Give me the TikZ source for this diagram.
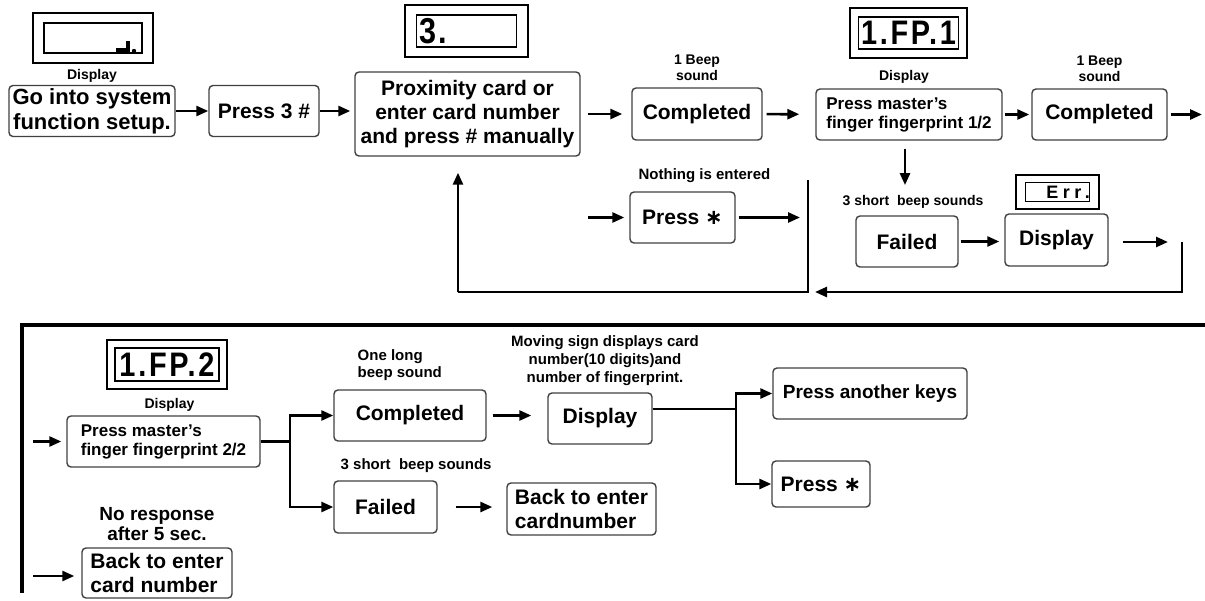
\documentclass[tikz,border=0pt]{standalone}
\usepackage{fontspec}
\setmainfont{Liberation Sans}
\newfontfamily\lcdfont[FakeStretch=0.85,LetterSpace=8]{Liberation Sans}
\newfontfamily\errfont[LetterSpace=25]{Liberation Sans}
\newfontfamily\symfont{DejaVu Sans}
\newcommand{\starkey}{{\symfont\bfseries ∗}}
\usetikzlibrary{positioning,arrows.meta}

\begin{document}
\begin{tikzpicture}[x=0.5pt, y=-0.5pt, node distance=2pt,
    box/.style={rectangle, draw=black!75, line width=0.7pt, rounded corners=2pt,
      inner sep=1pt, align=center, font=\bfseries\fontsize{10.5}{12}\selectfont},
    note/.style={inner sep=1pt, align=center, font=\bfseries\fontsize{7}{8}\selectfont},
    lcd/.style={rectangle, draw, line width=1.4pt, inner sep=0pt},
    lcdin/.style={rectangle, draw, line width=0.9pt, inner sep=0pt},
    lcdtxt/.style={inner sep=0pt, font=\lcdfont\bfseries\fontsize{17}{17}\selectfont},
    arr/.style={-{Triangle[length=6pt,width=5pt]}, line width=1.3pt},
    wire/.style={line width=1.3pt}]
  \useasboundingbox (0,0) rectangle (1205,600);

  % Setup
  \node[box, minimum width=83pt, minimum height=25.5pt,
    font=\bfseries\fontsize{11}{12.5}\selectfont] (setup) at (92,111) {Go into system\\function setup.};
  \node[note, above=0pt of setup] (setuplbl) {Display};
  \node[lcd, minimum width=60pt, minimum height=25pt] (lcd1) at (93,38) {};
  \node[lcdin, minimum width=49pt, minimum height=15pt] (lcd1in) at (lcd1) {};
  \draw[line width=1.6pt] (116,50) -- (128,50) -- (128,41);
  \fill (134,51) circle (1.1pt);

  % Press 3 #
  \node[box, minimum width=55pt, minimum height=25.5pt] (press3) at (264,111) {Press 3 \#};

  % Card
  \node[box, minimum width=112.5pt, minimum height=42pt] (prox) at (467.5,114)
    {Proximity card or\\enter card number\\and press \# manually};
  \node[lcd, minimum width=61.5pt, minimum height=26pt] (lcd2) at (466.5,31) {};
  \node[lcdin, minimum width=50pt, minimum height=16pt] (lcd2in) at (lcd2) {};
  \node[lcdtxt, anchor=west, font=\lcdfont\bfseries\fontsize{18}{18}\selectfont] (lcd2txt) at ([xshift=1.5pt,yshift=-0.3pt]lcd2in.west) {3.};

  % Completed
  \node[box, minimum width=65pt, minimum height=26pt] (done1) at (697,114) {Completed};
  \node[note, above=2pt of done1] (beep1) {1 Beep\\sound};

  % Fingerprint 1/2
  \node[box, minimum width=93pt, minimum height=25.5pt, align=left,
    font=\bfseries\fontsize{8.5}{9.5}\selectfont] (fp1) at (909,114.5) {Press master's\\finger fingerprint 1/2};
  \node[note, above=1pt of fp1, xshift=-2.5pt] (fp1lbl) {Display};
  \node[lcd, minimum width=58.5pt, minimum height=25pt] (lcd3) at (908.5,33) {};
  \node[lcdin, minimum width=50pt, minimum height=16pt] (lcd3in) at (lcd3) {};
  \node[lcdtxt] (lcd3txt) at (lcd3in) {1.FP.1};

  % Completed
  \node[box, minimum width=67.5pt, minimum height=25.5pt] (done2) at (1099.5,114.5) {Completed};
  \node[note, above=2pt of done2] (beep2) {1 Beep\\sound};
  \coordinate (out1) at (1202,114.5);

  % Press * (nothing entered)
  \node[box, minimum width=52.5pt, minimum height=25.5pt] (star1) at (682.5,217.5) {Press \starkey};
  \node[note, above=3pt of star1, xshift=11pt, font=\bfseries\fontsize{7.5}{8}\selectfont] (nothing) {Nothing is entered};
  \coordinate (in1) at (588,217.5);

  % Failed
  \node[box, minimum width=51pt, minimum height=25.5pt] (fail1) at (907,241.5) {Failed};
  \node[note] (fail1lbl) at (913,202) {3 short\ \ beep sounds};

  % Err display
  \node[box, minimum width=51.5pt, minimum height=26pt] (disp1) at (1056.5,240) {Display};
  \node[lcd, line width=1pt, minimum width=41.5pt, minimum height=17pt] (lcd5) at (1057.5,192) {};
  \node[lcdin, line width=0.7pt, minimum width=32pt, minimum height=9.5pt] (lcd5in) at (lcd5) {};
  \node[inner sep=0pt, anchor=east, font=\errfont\bfseries\fontsize{9}{9}\selectfont] (lcd5txt) at ([xshift=0pt,yshift=-0.2pt]lcd5in.east) {Err.};

  % Loop lines
  \coordinate (barTop) at (808,180);
  \coordinate (barBot) at (808,292);
  \coordinate (loopL) at (458,292);
  \coordinate (errR) at (1182,242);
  \coordinate (errB) at (1182,292);

  % Connections
  \draw[arr] (setup) -- (press3);
  \draw[arr, shorten >=2pt] (press3.east) -- (press3.east -| prox.west);
  \draw[arr, shorten <=3.5pt, shorten >=4.5pt] (prox) -- (done1);
  \draw[arr, shorten <=2pt, shorten >=8pt] (done1) -- (fp1);
  \draw[arr, shorten <=1pt, shorten >=1pt] (fp1) -- (done2);
  \draw[arr, shorten <=1.5pt] (done2) -- (out1);
  \draw[arr, shorten <=4pt, shorten >=4pt] ([xshift=-2pt]fp1.south) -- ([xshift=-2pt]fp1.south |- fail1lbl.north);
  \draw[arr, shorten <=1pt, shorten >=2.5pt] (fail1) -- (fail1 -| disp1.west);
  \draw[arr, shorten <=7pt, shorten >=7pt] (disp1.east |- errR) -- (errR);
  \draw[arr, shorten >=3.5pt] (errR) -- (errB) -- (barBot);
  \draw[arr, shorten >=2.5pt] (in1) -- (star1);
  \draw[arr, shorten <=1.5pt, shorten >=4pt] (star1) -- (star1 -| barTop);
  \draw[wire] (barTop) -- (barBot) -- (loopL);
  \draw[arr, shorten >=8pt] (loopL) -- (loopL |- prox.south);

  % Lower frame
  \coordinate (frameR) at (1205,325);
  \coordinate (frameL) at (22,325);
  \coordinate (frameB) at (22,593);
  \draw[line width=1.6pt] (frameR) -- (frameL) -- (frameB);

  % Fingerprint 2/2
  \node[box, minimum width=96.5pt, minimum height=25.5pt, align=left,
    font=\bfseries\fontsize{8.5}{9.5}\selectfont] (fp2) at (163.5,441.5) {Press master's\\finger fingerprint 2/2};
  \node[note, above=1pt of fp2, xshift=3pt] (fp2lbl) {Display};
  \node[lcd, minimum width=60pt, minimum height=24.5pt] (lcd4) at (167,364.5) {};
  \node[lcdin, minimum width=52pt, minimum height=16.5pt] (lcd4in) at (lcd4) {};
  \node[lcdtxt] (lcd4txt) at (lcd4in) {1.FP.2};
  \coordinate (in2) at (33,441.5);
  \coordinate (fork1) at (290,441.5);

  % Completed / Failed
  \node[box, minimum width=76pt, minimum height=25.5pt] (done3) at (410,415.5) {Completed};
  \node[note, align=left, anchor=south west, font=\bfseries\fontsize{7.5}{8.5}\selectfont] (longbeep)
    at ([xshift=11pt,yshift=3pt]done3.north west) {One long\\beep sound};
  \node[box, minimum width=51.5pt, minimum height=26pt] (fail2) at (385.5,507) {Failed};
  \node[note, anchor=south west, font=\bfseries\fontsize{7.5}{8}\selectfont] (fail2lbl)
    at ([xshift=2.5pt,yshift=2.5pt]fail2.north west) {3 short\ \ beep sounds};

  % Display card number
  \node[box, minimum width=52pt, minimum height=25.5pt] (disp2) at (600,418.5) {Display};
  \node[note, above=2pt of disp2, xshift=2.5pt, font=\bfseries\fontsize{7.5}{9}\selectfont] (moving)
    {Moving sign displays card\\number(10 digits)and\\number of fingerprint.};
  \node[box, minimum width=74.5pt, minimum height=26pt, align=left] (back1) at (581.5,509) {Back to enter\\cardnumber};
  \coordinate (fork2) at (736,409);

  % Last keys
  \node[box, minimum width=97pt, minimum height=25.5pt, font=\bfseries\fontsize{9.5}{11}\selectfont] (keys) at (870,393.5) {Press another keys};
  \node[box, minimum width=49pt, minimum height=23pt] (star2) at (821,484) {Press \starkey};

  % No response
  \node[box, minimum width=75pt, minimum height=25pt, align=left] (back2) at (157,573) {Back to enter\\card number};
  \node[note, above=2pt of back2, font=\bfseries\fontsize{9.5}{10}\selectfont] (noresp) {No response\\after 5 sec.};
  \coordinate (in3) at (33,576);

  % Connections
  \draw[arr, shorten >=2.5pt] (in2) -- (in2 -| fp2.west);
  \draw[wire] (fp2.east) -- (fork1);
  \draw[arr] (fork1) |- (done3);
  \draw[arr] (fork1) |- (fail2);
  \draw[arr, shorten <=3pt, shorten >=8pt] (done3.east) -- (done3.east -| disp2.west);
  \draw[arr, shorten <=9pt, shorten >=7pt] (fail2) -- (fail2 -| back1.west);
  \draw[wire] (disp2.east |- fork2) -- (fork2);
  \draw[arr] (fork2) |- (keys);
  \draw[arr] (fork2) |- (star2);
  \draw[arr, shorten >=3.5pt] (in3) -- (in3 -| back2.west);
\end{tikzpicture}
\end{document}
